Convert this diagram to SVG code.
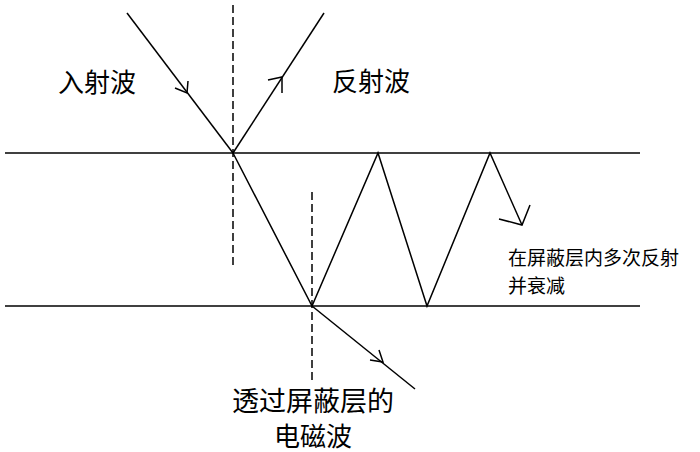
<svg xmlns="http://www.w3.org/2000/svg" width="700" height="452" viewBox="0 0 700 452">
<style>
.ln{stroke:#000;stroke-width:1.5;fill:none}
.ds{stroke:#000;stroke-width:1.5;fill:none;stroke-dasharray:8,4}
.ar{stroke:#000;stroke-width:1.5;fill:none;stroke-linejoin:miter}
.t{font-family:"Noto Sans CJK SC","Noto Sans",sans-serif;fill:#000}
</style>
<rect width="700" height="452" fill="#fff"/>
<g id="shield-layer">
<line class="ln" x1="5" y1="153" x2="640" y2="153"/>
<line class="ln" x1="5" y1="306" x2="640" y2="306"/>
</g>
<g id="normals">
<line class="ds" x1="233" y1="5" x2="233" y2="266"/>
<line class="ds" x1="312" y1="192" x2="312" y2="382"/>
</g>
<g id="connectors">
<line class="ln" x1="127" y1="13" x2="233" y2="153"/>
<polyline class="ar" points="175,88 187,93 188,81"/>
<line class="ln" x1="233" y1="153" x2="324" y2="13"/>
<polyline class="ar" points="268,80 282,77 282,93"/>
<polyline class="ln" points="233,153 312,306 378,153 427,306 490,153 522,225"/>
<polyline class="ar" points="499,219 522,225 530,205"/>
<line class="ln" x1="312" y1="306" x2="415" y2="389"/>
<polyline class="ar" points="370,360 383,362 379,350"/>
</g>
<g id="label-incident"><text class="t" x="97" y="92" font-size="26" text-anchor="middle">入射波</text></g>
<g id="label-reflected"><text class="t" x="371" y="91" font-size="26" text-anchor="middle">反射波</text></g>
<g id="label-multi"><text class="t" x="508" y="265" font-size="19">在屏蔽层内多次反射</text><text class="t" x="508" y="293" font-size="19">并衰减</text></g>
<g id="label-transmitted"><text class="t" x="313" y="411" font-size="27" text-anchor="middle">透过屏蔽层的</text><text class="t" x="313" y="446" font-size="26" text-anchor="middle">电磁波</text></g>
</svg>
